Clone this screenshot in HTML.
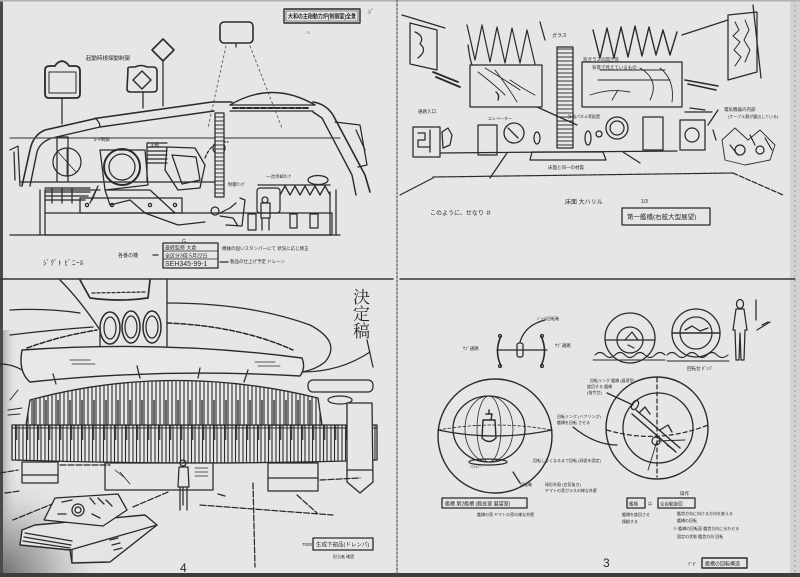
<!DOCTYPE html>
<html><head><meta charset="utf-8">
<style>
html,body{margin:0;padding:0;background:#e6e6e6;}
svg{display:block;}
text{font-family:"Liberation Sans","Noto Sans CJK JP",sans-serif;fill:#2a2a2a;stroke:none;}
</style></head>
<body>
<svg width="800" height="577" viewBox="0 0 800 577" xmlns="http://www.w3.org/2000/svg">
<defs>
<pattern id="fins" width="11" height="80" patternUnits="userSpaceOnUse">
<rect width="11" height="80" fill="#e8e8e8"/>
<path d="M1 0 V80 M4.5 0 V80 M8 0 V80" stroke="#2a2a2a" stroke-width="1.1"/>
<path d="M5.5 10 V40" stroke="#444" stroke-width="1.6"/>
</pattern>
<pattern id="fins2" width="12" height="80" patternUnits="userSpaceOnUse" patternTransform="translate(3,0)">
<rect width="12" height="80" fill="#e8e8e8"/>
<path d="M1 0 V80 M5 0 V80 M9 0 V80" stroke="#2a2a2a" stroke-width="1.1"/>
<path d="M7 0 V25" stroke="#444" stroke-width="1.6"/>
</pattern>
<pattern id="rungs" width="10" height="4" patternUnits="userSpaceOnUse">
<rect width="10" height="4" fill="#e8e8e8"/>
<path d="M0 1 H10" stroke="#333" stroke-width="1"/>
</pattern>
<radialGradient id="corner" cx="0" cy="577" r="110" gradientUnits="userSpaceOnUse">
<stop offset="0" stop-color="#6a6a6a"/>
<stop offset="0.45" stop-color="#a8a8a8" stop-opacity="0.8"/>
<stop offset="1" stop-color="#e6e6e6" stop-opacity="0"/>
</radialGradient>
<linearGradient id="leftedge" x1="0" x2="1" y1="0" y2="0">
<stop offset="0" stop-color="#9a9a9a"/>
<stop offset="1" stop-color="#e6e6e6" stop-opacity="0"/>
</linearGradient>
</defs>

<rect width="800" height="577" fill="#e6e6e6"/>
<rect x="0" y="330" width="18" height="247" fill="url(#leftedge)"/>
<rect x="0" y="440" width="140" height="137" fill="url(#corner)"/>
<rect x="790" y="0" width="10" height="577" fill="#d2d2d2"/>
<path d="M795 0 V577" stroke="#9a9a9a" stroke-width="1" stroke-dasharray="2 3"/>
<rect x="0" y="0" width="3" height="577" fill="#4a4a4a"/>
<rect x="0" y="573" width="800" height="4" fill="#3c3c3c"/>
<rect x="0" y="0" width="800" height="1.5" fill="#b0b0b0"/>

<g fill="none" stroke="#2a2a2a" stroke-width="1.25" stroke-linecap="round" stroke-linejoin="round">

<!-- dividers -->
<path d="M0 279 H393" stroke-width="1.4" stroke="#333"/>
<path d="M400 279 H795" stroke-width="1.4" stroke="#333"/>
<path d="M397 0 V577" stroke="#555" stroke-dasharray="2 2"/>

<!-- ================= TOP LEFT ================= -->
<rect x="284" y="9" width="76" height="14" stroke-width="1.4"/>
<rect x="286" y="11" width="72" height="10" stroke-width="0.6"/>
<text x="288" y="18.5" font-size="6" font-weight="bold" textLength="68" lengthAdjust="spacingAndGlyphs">大和の主砲動力炉(制御室)全景</text>
<!-- shape 1 -->
<path d="M45 70 Q45 66 50 66 L55 66 Q57 62 62 61 Q67 62 69 66 L75 66 Q80 66 80 71 L80 94 Q80 98 76 98 L49 98 Q45 98 45 94 Z" stroke-width="1.8"/>
<path d="M49 72 L76 72 L76 93 L49 93 Z" stroke-width="1"/>
<path d="M62 98 V124"/>
<!-- shape 2 -->
<path d="M128 70 Q127 67 131 67 L135 67 Q141 64 147 67 L153 67 Q157 67 157 71 L157 89 Q157 92 153 92 L131 92 Q127 92 127 89 Z" stroke-width="1.6"/>
<path d="M142 71 L151 80 L142 89 L133 80 Z" stroke-width="1.4"/>
<path d="M143 92 V108"/>
<!-- shape 3 -->
<path d="M163 39 Q168 44 174 50 Q168 56 163 61 Q158 56 152 50 Q158 44 163 39 Z" stroke-width="1.6"/>
<path d="M163 61 V106"/>
<!-- shape 4 -->
<rect x="220" y="22" width="33" height="21" rx="4" stroke-width="1.6"/>
<path d="M236 43 V47"/>
<path d="M226 46 L208 128 M250 46 L282 128" stroke-dasharray="2 3" stroke="#666" stroke-width="1"/>
<text x="86" y="60" font-size="5.5">起動時根探動制御</text>
<text x="368" y="14" font-size="6">ｼﾞ</text>
<text x="305" y="34" font-size="4">- ≡</text>

<!-- hull roof -->
<path d="M22 186 L30 150 Q33 135 45 130 L98 118 L212 102 L232 102" stroke-width="1.6"/>
<path d="M30 186 L37 152 Q40 142 52 138 L100 127 L214 111" stroke-width="1.4"/>
<path d="M95 118 Q100 122 100 127"/>
<path d="M230 105 Q272 80 315 105" stroke-width="1.4"/>
<path d="M230 105 L315 105 M230 111 L313 111"/>
<path d="M233 108 H310" stroke-dasharray="5 2" stroke-width="2"/>
<path d="M313 102 Q326 104 333 115 L365 175 L370 192" stroke-width="1.6"/>
<path d="M313 112 L322 118 L352 175 L356 195" stroke-width="1.4"/>
<path d="M335 122 L360 125 L367 165 L358 167"/>
<path d="M356 130 L365 150"/>
<!-- interior -->
<path d="M10 138 H340" stroke="#555"/>
<path d="M10 150 L18 146 L20 186 M14 152 L15 180" />
<path d="M20 182 H215 M45 190 H100"/>
<path d="M57 137 H68 V182 M57 137 V182"/>
<path d="M147 143 H167 M147 147 H167 M147 151 H167 M147 155 H167 M147 159 H167 M147 163 H167 M147 143 V182"/>
<circle cx="67" cy="162" r="14"/>
<path d="M58 152 L76 172 M67 148 V176" stroke-width="0.8"/>
<path d="M100 150 L145 150 L148 185 L105 190 Z"/>
<circle cx="122" cy="167" r="18" stroke-width="2"/>
<circle cx="122" cy="167" r="13"/>
<path d="M167 147 L195 148 L205 165 L200 188 L178 190 L165 170 Z" stroke-width="1.3"/>
<path d="M172 155 L196 157 L200 180 L182 184 Z"/>
<path d="M205 158 Q212 140 228 142" stroke-dasharray="3 2"/>
<circle cx="219" cy="148" r="6"/>
<path d="M105 190 L150 190 L175 213 L145 213 L130 200 L110 205 Z"/>
<path d="M98 186 L92 200 M96 190 L90 203"/>
<path d="M80 198 H182 V213 H80 Z"/>
<circle cx="87" cy="205" r="1.6"/><circle cx="112" cy="205" r="1.6"/><circle cx="150" cy="205" r="1.6"/><circle cx="175" cy="205" r="1.6"/>
<path d="M45 188 H90 M45 192 H90 M45 196 H88 M45 200 H85 M52 188 V203 M62 188 V203 M72 188 V203"/>
<rect x="215" y="113" width="9" height="84" fill="url(#rungs)"/>
<path d="M45 213 H332 V235 H45 Z"/>
<path d="M10 235 H340 M40 190 V235 M45 190 V213"/>
<path d="M145 213 L178 225 L205 222"/>
<path d="M248 214 H256 V230 H248 Z M290 214 H297 V228 H290 Z M310 214 H318 V228 H310 Z"/>
<path d="M330 192 V235 M336 190 V235"/>
<!-- people -->
<circle cx="215" cy="211" r="4"/>
<path d="M218 214 L230 208 L236 203 M220 216 L233 218 L238 226 M226 225 L242 226 L245 200 L240 198"/>
<circle cx="265" cy="200" r="3"/>
<path d="M261 203 H270 V218 H261 Z M262 218 L262 230 M269 218 L269 230"/>
<!-- zigzag -->
<path d="M258 185 H330"/>
<rect x="257" y="188" width="23" height="25" rx="3"/>
<path d="M280 195 L285 186 L290 195 L295 186 L300 195 L305 186 L310 195 L315 186 L320 195 L325 186 L330 195" stroke-width="1.3"/>
<ellipse cx="318" cy="180" rx="10" ry="4.5"/>
<text x="94" y="141" font-size="4.5">ﾛｰﾙ制御</text>
<text x="150" y="146" font-size="4.5">主軸</text>
<text x="228" y="186" font-size="4.5">制御ﾘﾝｸﾞ</text>
<text x="266" y="178" font-size="4.5">一次冷却ﾀﾝｸ</text>
<!-- labels -->
<text x="43" y="265" font-size="7" letter-spacing="0.5">ｼﾞｸﾞﾄ ﾋﾞﾆｰﾙ</text>
<text x="118" y="257" font-size="5">各番の機</text>
<path d="M153 255 H158"/>
<rect x="163" y="243" width="55" height="25" stroke-width="1.3"/>
<path d="M163 251 H218 M163 259 H218" stroke-width="0.8"/>
<text x="165" y="249.5" font-size="5">最終監修 大倉</text>
<text x="165" y="257.5" font-size="5">全区分3倍 5月22日</text>
<text x="165" y="266" font-size="7">SEH345-99-1</text>
<text x="222" y="250" font-size="4.5">機械の固いスタンパーにて 状況に応じ修正</text>
<path d="M220 262 H228"/>
<text x="230" y="263" font-size="4.5">製品の仕上げ予定 ドレーン</text>
<text x="182" y="243" font-size="5">G</text>

<!-- ================= BOTTOM LEFT ================= -->
<!-- saucer underside -->
<path d="M10 310 Q45 308 80 313"/>
<path d="M10 335 Q50 330 93 327" stroke-width="1.3"/>
<path d="M0 364 Q12 364 22 370"/>
<path d="M167 303 Q250 303 310 325 Q342 342 325 362 Q315 370 302 372" stroke-width="1.3"/>
<path d="M302 372 Q340 372 370 352"/>
<path d="M60 280 Q80 300 100 330" stroke-width="1.3"/>
<!-- pillar -->
<path d="M100 330 V346" stroke-width="1.3"/>
<path d="M167 280 V346" stroke-width="1.3"/>
<path d="M80 280 L90 298 Q120 302 148 298 L150 280" stroke-width="1.7"/>
<path d="M92 293 L145 292" stroke-dasharray="3 2"/>
<ellipse cx="110" cy="328" rx="10" ry="16" stroke-width="1.5"/>
<ellipse cx="110" cy="328" rx="6" ry="11"/>
<ellipse cx="131" cy="327" rx="9" ry="16" stroke-width="1.5"/>
<ellipse cx="131" cy="327" rx="6" ry="11"/>
<ellipse cx="152" cy="327" rx="9" ry="16" stroke-width="1.5"/>
<ellipse cx="152" cy="327" rx="6" ry="11"/>
<!-- dashed arch -->
<path d="M27 348 Q60 336 97 330" stroke-dasharray="5 2" stroke-width="1.5"/>
<path d="M167 323 Q240 326 293 350" stroke-dasharray="5 2" stroke-width="1.5"/>
<!-- band -->
<path d="M22 350 Q165 340 302 358 Q306 368 300 376 Q165 368 30 382 Q18 372 22 350 Z" fill="#e8e8e8" stroke-width="1.4"/>
<path d="M53 374 L56 384 M137 366 L140 378 M200 368 L198 378 M248 370 L244 382"/>
<path d="M70 360 H90 M72 364 H95 M255 362 H275 M258 366 H280" stroke-width="0.8"/>
<!-- right structures -->
<path d="M367 340 L373 367"/>
<rect x="308" y="380" width="65" height="12" rx="5"/>
<ellipse cx="340" cy="400" rx="12" ry="4"/>
<!-- fins -->
<path d="M12 425 H377 V460 Q200 466 12 460 Z" fill="url(#fins)" stroke-width="1.3"/>
<path d="M30 400 Q170 362 318 398 L322 425 L26 425 Z" fill="url(#fins2)" stroke-width="1.3"/>
<path d="M12 428 H377" stroke-width="1"/>
<path d="M10 400 L18 390 M8 410 L22 408 M8 415 L20 414" stroke-width="1"/>
<!-- pod -->
<path d="M347 403 L372 403 L373 482 L360 493 L347 482 Z" fill="#e6e6e6" stroke-width="1.3"/>
<path d="M347 470 H373"/>
<!-- base blocks -->
<rect x="22" y="462" width="36" height="21" fill="#e6e6e6"/>
<path d="M22 475 H58"/>
<rect x="105" y="463" width="108" height="27" fill="#e6e6e6"/>
<path d="M115 470 L125 478 M120 472 L130 484 M195 468 H208 M195 472 H208 M195 476 H208" stroke-width="0.8"/>
<rect x="268" y="463" width="50" height="28" fill="#e6e6e6"/>
<path d="M268 478 H318"/>
<!-- floor lines -->
<path d="M0 473 L18 470 M5 493 L20 491 M60 465 L110 465 M62 500 L13 520 M133 507 L168 492 M253 483 L255 567 M297 495 L317 513 M200 505 L333 515 M320 480 L360 478" stroke-dasharray="6 2"/>
<path d="M218 494 L225 496"/>
<!-- person -->
<circle cx="183" cy="463" r="3"/>
<path d="M179 467 H188 L189 487 H178 Z M180 487 L180 510 M187 487 L187 510 M183 487 V505"/>
<!-- console -->
<path d="M22 530 L35 525 L145 515 L157 525 L110 562 L72 563 L70 550 L20 545 Z" fill="#e4e4e4" stroke-width="1.4"/>
<path d="M70 550 L157 525 M72 550 L72 563"/>
<path d="M25 533 L72 541 M24 537 L71 545 M23 541 L70 548" stroke-width="1.3"/>
<path d="M55 498 L118 494 L127 510 L103 526 L44 520 Z" fill="#e4e4e4" stroke-width="1.3"/>
<circle cx="78" cy="510" r="6"/>
<circle cx="78" cy="510" r="3"/>
<path d="M62 502 L72 500 M90 498 L95 504 M98 498 L104 504 M106 500 L112 506 M58 514 L66 514 M92 514 L100 518" stroke-width="1.3"/>
<path d="M110 540 L118 538 M112 545 L120 543 M114 550 L122 548"/>
<!-- 決定稿 -->
<text x="353" y="303" font-size="17" style="font-family:'Noto Serif CJK SC',serif">決</text>
<text x="353" y="320" font-size="17" style="font-family:'Noto Serif CJK SC',serif">定</text>
<text x="353" y="337" font-size="17" style="font-family:'Noto Serif CJK SC',serif">稿</text>
<!-- label -->
<rect x="313" y="538" width="60" height="12" stroke-width="1.3"/>
<text x="316" y="546.5" font-size="5.5">生成下部品(ドレンパ)</text>
<text x="302" y="546" font-size="4.5">7000</text>
<text x="333" y="558" font-size="4">担当者 確認</text>
<text x="180" y="572" font-size="12">4</text>

<!-- ================= TOP RIGHT ================= -->
<path d="M402 15 L445 28"/>
<path d="M410 23 L437 30 L437 70 L410 64 Z"/>
<path d="M415 32 Q425 36 420 44 Q428 50 418 58" />
<path d="M433 72 L458 82 M436 77 L460 87" stroke-width="1.8"/>
<path d="M682 35 L728 20"/>
<path d="M728 15 L757 12 L757 72 L728 80 Z"/>
<path d="M735 22 L739 30 L733 36 L740 42 L734 50 L741 57 L735 66 M745 20 L749 30 L744 40 L750 50 L745 62" stroke-width="1"/>
<path d="M685 80 L718 86 M688 84 L716 90" stroke-width="1.6"/>
<path d="M753 5 L761 78"/>
<!-- curtains -->
<path d="M467 25 L475 60 L482 25 L490 62 L497 27 L505 63 L512 28 L520 63 L527 30 L535 64" stroke-width="1.2"/>
<path d="M468 45 Q470 60 472 65 M540 22 L545 40"/>
<path d="M593 30 L600 58 L607 28 L614 58 L621 27 L628 57 L635 26 L642 56 L649 27 L656 55 L663 30 L670 55 L677 32" stroke-width="1.4"/>
<text x="552" y="37" font-size="5">ガラス</text>
<!-- screens -->
<rect x="470" y="65" width="72" height="42"/>
<path d="M478 72 Q495 85 505 95 M485 68 Q505 80 520 90 M495 70 Q510 90 517 102 M510 80 Q525 90 535 95" stroke-width="0.9"/>
<path d="M496 92 Q500 95 498 100" stroke-width="1.4"/>
<rect x="582" y="62" width="100" height="45"/>
<path d="M590 95 Q610 88 630 92 M600 70 L665 70 M598 80 L670 80 M640 68 Q660 80 650 100 M660 68 Q675 80 672 102 M618 90 L612 100" stroke-width="0.9"/>
<text x="583" y="61" font-size="4.5">窓ガラスの開き等</text>
<text x="592" y="69" font-size="4.5">背景で見えているもの</text>
<!-- ladder -->
<rect x="557" y="47" width="16" height="101" fill="url(#rungs)"/>
<!-- back wall -->
<path d="M440 153 L677 151"/>
<path d="M690 108 L705 110 M685 112 L712 112"/>
<path d="M532 152 L603 152 L606 160 L530 160 Z"/>
<path d="M433 177 L733 173" stroke-dasharray="4 1" stroke-width="1.2"/>
<path d="M400 195 L433 178" stroke-width="1.2"/>
<path d="M733 173 L783 195" stroke-dasharray="5 2"/>
<path d="M490 178 L507 153 M623 152 L640 163 M537 107 L577 125"/>
<!-- wall items -->
<rect x="478" y="125" width="19" height="30"/>
<rect x="643" y="117" width="20" height="33"/>
<circle cx="514" cy="133" r="10" stroke-width="1.3"/>
<path d="M508 128 L518 138"/>
<circle cx="617" cy="128" r="11" stroke-width="1.3"/>
<circle cx="617" cy="128" r="7"/>
<circle cx="599" cy="134" r="3"/>
<ellipse cx="588" cy="138" rx="3" ry="7"/>
<ellipse cx="537" cy="138" rx="3" ry="6"/>
<path d="M413 127 H440 V157 H413 Z M418 133 L425 133 L425 140 L418 140 L418 147 L430 147 M430 130 V152"/>
<path d="M442 132 L448 128 L452 135 L450 145 L443 148 Z"/>
<path d="M680 120 H705 V150 H680 Z"/>
<circle cx="692" cy="135" r="7"/>
<path d="M713 130 L716 140 M708 125 L718 110"/>
<path d="M722 140 L735 128 L748 140 L760 130 L775 145 L770 160 L745 165 L725 160 Z" stroke-width="0.9"/>
<circle cx="740" cy="150" r="5"/><circle cx="760" cy="150" r="4"/>
<path d="M730 145 L738 155 M750 135 L755 145 M765 138 L772 150" stroke-width="1.2"/>
<text x="724" y="111" font-size="4.5">電気機器の内部</text>
<text x="728" y="118" font-size="4">(ケーブル類が露出している)</text>
<text x="418" y="113" font-size="4.5">通路入口</text>
<text x="488" y="120" font-size="4">エレベーター</text>
<text x="568" y="118" font-size="4">計器パネル等配置</text>
<text x="548" y="169" font-size="4.5">床面と同一の材質</text>
<text x="430" y="215" font-size="6">このように、せなり ＃</text>
<text x="565" y="204" font-size="6">床面 大ハリル</text>
<text x="641" y="203" font-size="5">1/3</text>
<rect x="622" y="208" width="88" height="17" stroke-width="1.3"/>
<text x="627" y="219" font-size="6.5">第一艦橋(右舷大型展望)</text>

<!-- ================= BOTTOM RIGHT ================= -->
<!-- gimbal -->
<path d="M501 336 Q494 351 501 366" stroke-width="1.6"/>
<path d="M541 336 Q548 351 541 366" stroke-width="1.6"/>
<path d="M497 350 H547"/>
<rect x="517" y="343" width="6" height="14" rx="2"/>
<path d="M520 342 Q525 325 545 320" />
<circle cx="500" cy="336" r="1.5"/><circle cx="500" cy="366" r="1.5"/><circle cx="542" cy="336" r="1.5"/><circle cx="542" cy="366" r="1.5"/>
<text x="463" y="350" font-size="4.5">ｻﾌﾞ通路</text>
<text x="555" y="347" font-size="4.5">ｻﾌﾞ通路</text>
<text x="537" y="320" font-size="4">ｼﾞｬｲﾛ回転軸</text>
<!-- small spheres -->
<circle cx="630" cy="338" r="25" stroke-width="1.3"/>
<circle cx="630" cy="340" r="13"/>
<path d="M605 340 H655"/>
<path d="M625 340 L632 332 L638 340 M628 345 L634 348" stroke-width="1.2"/>
<path d="M595 355 Q600 350 605 355 Q610 360 615 355 Q620 350 625 355 Q630 360 635 355 Q640 350 645 355 Q650 360 655 355 Q660 350 665 355 M593 360 H665" stroke-width="1.1"/>
<circle cx="696" cy="333" r="24" stroke-width="1.3"/>
<circle cx="696" cy="333" r="16"/>
<path d="M672 333 H720" stroke-width="1.5"/>
<path d="M685 330 L692 326 L700 331 L708 328" stroke-width="1.3"/>
<path d="M667 355 Q672 350 677 355 Q682 360 687 355 Q692 350 697 355 Q702 360 707 355 Q712 350 717 355 Q722 360 728 355 M667 361 H729" stroke-width="1.1"/>
<text x="687" y="370" font-size="4.5">回転台 ﾀﾞﾝﾊﾟ</text>
<!-- human -->
<ellipse cx="740" cy="304" rx="3.5" ry="4.5"/>
<path d="M736 309 L744 309 L747 330 L745 330 L744 360 L741 360 L740 333 L739 360 L736 360 L735 330 L733 330 Z"/>
<path d="M756 300 V320 M762 325 L768 322"/>
<!-- big left sphere -->
<circle cx="495" cy="436" r="57" stroke-width="1.4"/>
<ellipse cx="489" cy="429" rx="36" ry="33" stroke-width="1.3"/>
<ellipse cx="489" cy="429" rx="24" ry="33" stroke-width="0.8"/>
<ellipse cx="489" cy="429" rx="12" ry="33" stroke-width="0.8"/>
<path d="M438 430 Q495 442 552 430" stroke-width="1.2"/>
<path d="M438 430 Q495 420 552 430" stroke-width="0.8" stroke-dasharray="3 2"/>
<path d="M483 420 L495 420 L496 438 Q489 445 482 438 Z M486 414 L492 414 L491 420 M489 410 V414" stroke-width="1.4"/>
<ellipse cx="488" cy="462" rx="19" ry="3"/>
<path d="M513 472 L520 483"/>
<text x="470" y="468" font-size="3.5">ｿﾌﾄﾗﾊﾞｰ</text>
<text x="533" y="462" font-size="4">回転しなくなるまで回転 (球面を固定)</text>
<text x="520" y="486" font-size="4">回転軸</text>
<text x="545" y="486" font-size="4">球形外殻 (空気抜き)</text>
<text x="545" y="492" font-size="4">ヤマトの窓ガラスの様な外壁</text>
<rect x="442" y="498" width="85" height="10" stroke-width="1.3"/>
<text x="445" y="505.5" font-size="5">艦橋 第2艦橋 (艦長室 展望室)</text>
<text x="477" y="516" font-size="4">艦橋の窓  ヤマトの窓の様な外壁</text>
<!-- big right sphere -->
<circle cx="657" cy="428" r="51" stroke-width="1.4"/>
<circle cx="658" cy="428" r="35" stroke-width="1.3"/>
<path d="M657 378 V477" stroke-dasharray="4 3"/>
<path d="M607 430 Q657 445 708 425" stroke-dasharray="4 3"/>
<path d="M636 410 L680 448 M632 414 L676 452" stroke-width="1.4"/>
<path d="M640 412 L645 407 L650 414 M660 430 L668 425 L672 432 M667 445 L674 450" stroke-width="1.3"/>
<circle cx="656" cy="441" r="4"/>
<path d="M657 441 L648 470 M657 441 L685 440" stroke-width="0.9"/>
<ellipse cx="635" cy="405" rx="3" ry="5" transform="rotate(30 635 405)"/>
<path d="M607 393 L633 405 M573 427 Q595 445 617 445"/>
<text x="590" y="382" font-size="4">回転リング 艦橋 (展望室)</text>
<text x="587" y="388" font-size="4">旋回する 艦橋</text>
<text x="587" y="394" font-size="4">(指令台)</text>
<text x="557" y="418" font-size="4">回転リング (ベアリング)</text>
<text x="557" y="424" font-size="4">艦橋を回転 させる</text>
<text x="680" y="495" font-size="4.5">操作</text>
<rect x="627" y="498" width="18" height="10" stroke-width="1.3"/>
<text x="629" y="505.5" font-size="4.5">艦橋</text>
<text x="648" y="505" font-size="4">は</text>
<rect x="658" y="498" width="37" height="10" stroke-width="1.3"/>
<text x="660" y="505.5" font-size="4.5">全自動旋回</text>
<text x="622" y="516" font-size="4">艦橋を旋回させ</text>
<text x="622" y="523" font-size="4">操縦する</text>
<text x="677" y="515" font-size="4">艦首方向に向ける方向を変える</text>
<text x="677" y="522" font-size="4">艦橋の回転</text>
<text x="673" y="530" font-size="4">※ 艦橋の回転面 艦首方向に合わせる</text>
<text x="677" y="538" font-size="4">固定の状態  艦首方向 回転</text>
<text x="603" y="567" font-size="12">3</text>
<text x="688" y="566" font-size="4.5">ﾃﾞｻﾞ</text>
<rect x="702" y="558" width="45" height="10" stroke-width="1.4"/>
<text x="705" y="565.5" font-size="5">艦橋の回転構造</text>
<path d="M757 330 L770 322"/>
</g>
</svg>
</body></html>
